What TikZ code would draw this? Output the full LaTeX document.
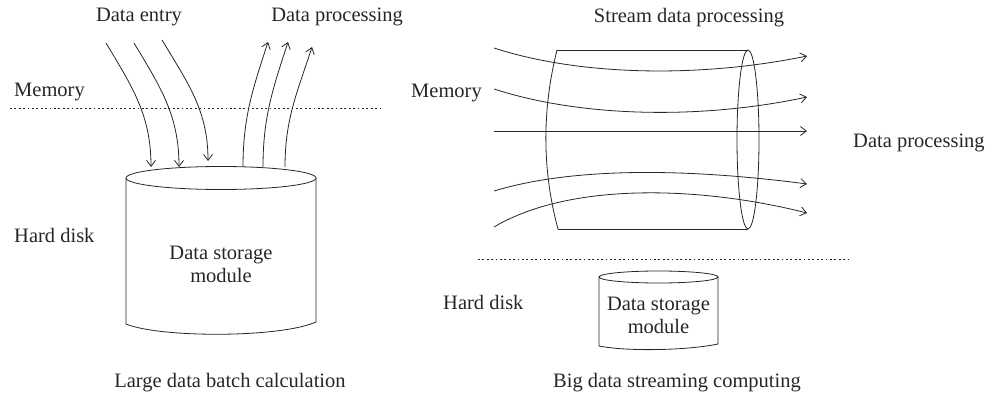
\documentclass[tikz,border=0pt]{standalone}
\usepackage{fontspec}
\setmainfont{Liberation Serif}
\usetikzlibrary{arrows.meta}
\begin{document}
\begin{tikzpicture}[x=1pt,y=-1pt,
  lbl/.style={font=\fontsize{20.5}{23}\selectfont, text=black!85, inner sep=0pt},
  edge/.style={line width=0.8pt, draw=black!85},
  arr/.style={edge, -{Straight Barb[length=6pt,width=9pt]}},
  dots/.style={line width=0.8pt, draw=black!85, dash pattern=on 1.8pt off 2.6pt}]
\useasboundingbox (0,0) rectangle (992,398);
% ---- left panel ----
\node[lbl] (entry) at (139,17) {Data entry};
\node[lbl] (proc) at (337,17) {Data processing};
\node[lbl, anchor=west] (mem1) at (14,92) {Memory};
\coordinate (d1a) at (10,108); \coordinate (d1b) at (380,108);
\draw[dots] (d1a) -- (d1b);
\node[lbl, anchor=west] (hd1) at (14,235) {Hard disk};
% cylinder
\draw[edge] (221,178) ellipse [x radius=95, y radius=11.5];
\draw[edge] (126,178) -- (126,324) .. controls (160,338) and (280,338) .. (316,322) -- (316,178);
\node[lbl, align=center] (store1) at (221,264) {Data storage\\module};
\node[lbl] (cap1) at (230,383) {Large data batch calculation};
% arrows in
\coordinate (i1) at (106,43); \coordinate (j1) at (151,167);
\coordinate (i2) at (134,43); \coordinate (j2) at (179,167);
\coordinate (i3) at (162,40); \coordinate (j3) at (208,161);
\draw[arr] (i1) to[out=-59,in=90] (j1);
\draw[arr] (i2) to[out=-59,in=90] (j2);
\draw[arr] (i3) to[out=-59,in=90] (j3);
% arrows out
\coordinate (o1) at (243,167); \coordinate (p1) at (268,42);
\coordinate (o2) at (263,167); \coordinate (p2) at (288,42);
\coordinate (o3) at (285,167); \coordinate (p3) at (312,47);
\draw[arr] (o1) to[out=90,in=-108] (p1);
\draw[arr] (o2) to[out=90,in=-108] (p2);
\draw[arr] (o3) to[out=90,in=-108] (p3);
% ---- right panel ----
\node[lbl] (sproc) at (689,18) {Stream data processing};
\node[lbl, anchor=west] (mem2) at (411,93) {Memory};
\node[lbl, anchor=west] (dp2) at (853,143) {Data processing};
% horizontal cylinder
\draw[edge] (557,50) -- (748,50);
\draw[edge] (558,229) -- (748,229);
\draw[edge] (557,50) .. controls (542,110) and (542,170) .. (558,229);
\draw[edge] (748,139.5) ellipse [x radius=11, y radius=89.5];
% stream arrows
\coordinate (s1) at (494,48);  \coordinate (t1) at (807,56);
\coordinate (s2) at (494,89);  \coordinate (t2) at (807,97);
\coordinate (s3) at (494,131); \coordinate (t3) at (807,131);
\coordinate (s4) at (494,191); \coordinate (t4) at (807,184);
\coordinate (s5) at (494,227); \coordinate (t5) at (807,213);
\draw[arr] (s1) .. controls (580,76) and (700,78) .. (t1);
\draw[arr] (s2) .. controls (580,117) and (700,120) .. (t2);
\draw[arr] (s3) -- (t3);
\draw[arr] (s4) .. controls (580,165) and (700,170) .. (t4);
\draw[arr] (s5) .. controls (570,182) and (700,186) .. (t5);
% dotted line
\coordinate (d2a) at (478,259); \coordinate (d2b) at (848,259);
\draw[dots] (d2a) -- (d2b);
\node[lbl, anchor=west] (hd2) at (443,302) {Hard disk};
% small cylinder
\draw[edge] (658.5,277) ellipse [x radius=59.5, y radius=6];
\draw[edge] (599,277) -- (599,346) .. controls (630,352) and (690,350) .. (718,344) -- (718,277);
\node[lbl, align=center] (store2) at (658.5,315) {Data storage\\module};
\node[lbl] (cap2) at (677,383) {Big data streaming computing};
\end{tikzpicture}
\end{document}
